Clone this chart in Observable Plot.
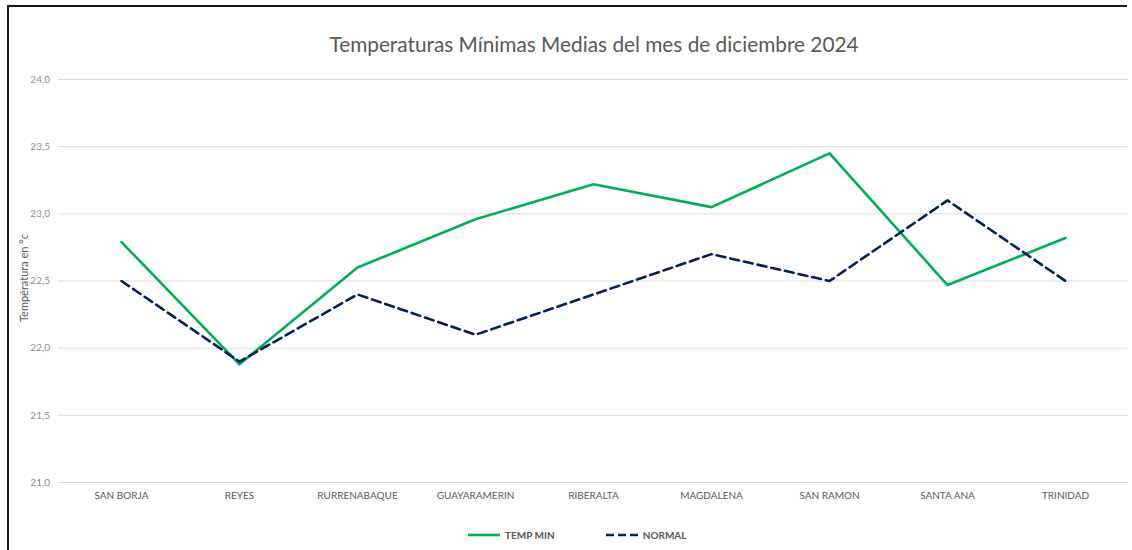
<!DOCTYPE html>
<html>
<head>
<meta charset="utf-8">
<script src="https://cdn.jsdelivr.net/npm/d3@7"></script>
<script src="https://cdn.jsdelivr.net/npm/@observablehq/plot@0.6"></script>
<style>
  html, body { margin: 0; padding: 0; background: #fff; overflow: hidden; }
  body { width: 1132px; height: 550px; position: relative; font-family: Lato, "Open Sans", sans-serif; }
  #frame { position: absolute; left: 7px; top: 5px; width: 1120px; height: 545px; border-left: 2px solid #1a1a1a; border-top: 2px solid #1a1a1a; box-sizing: border-box; }
  #title { position: absolute; left: 0; width: 1188px; top: 31px; text-align: center; font-size: 20.8px; color: #595959; }
  #chart { position: absolute; left: 0; top: 60px; }
  #ylabel { position: absolute; left: 23px; top: 278px; transform: translate(-50%, -50%) rotate(-90deg); white-space: nowrap; font-size: 11px; color: #595959; }
  #legend { position: absolute; top: 527px; left: 467px; display: flex; align-items: center; font-size: 10px; font-weight: bold; color: #595959; }
  #legend .item { display: flex; align-items: center; }
  #legend svg { margin-right: 4px; }
</style>
</head>
<body>
<div id="frame"></div>
<div id="title">Temperaturas Mínimas Medias del mes de diciembre 2024</div>
<div id="chart"></div>
<div id="ylabel">Températura en °c</div>
<div id="legend"></div>
<script>
const stations = ["SAN BORJA", "REYES", "RURRENABAQUE", "GUAYARAMERIN", "RIBERALTA", "MAGDALENA", "SAN RAMON", "SANTA ANA", "TRINIDAD"];
const tempMin = [22.79, 21.88, 22.6, 22.96, 23.22, 23.05, 23.45, 22.47, 22.82];
const normal = [22.5, 21.9, 22.4, 22.1, 22.4, 22.7, 22.5, 23.1, 22.5];
const yTicks = [21.0, 21.5, 22.0, 22.5, 23.0, 23.5, 24.0];
const seriesNames = ["TEMP MIN", "NORMAL"];
const seriesColors = ["#00B050", "#002060"];

const rowsMin = stations.map((s, i) => ({station: s, value: tempMin[i]}));
const rowsNormal = stations.map((s, i) => ({station: s, value: normal[i]}));
const fmt = d => d.toFixed(1).replace(".", ",");

const chart = Plot.plot({
  width: 1132,
  height: 460,
  marginTop: 19,
  marginBottom: 38,
  marginLeft: 57.5,
  marginRight: 4.5,
  style: {fontFamily: "Lato, 'Open Sans', sans-serif", fontSize: "10px", color: "#595959", background: "transparent"},
  x: {type: "point", domain: stations, padding: 0.5},
  y: {domain: [21, 24]},
  marks: [
    Plot.gridY(yTicks, {stroke: "#d9d9d9", strokeOpacity: 1, strokeWidth: 1}),
    Plot.axisY(yTicks, {tickSize: 0, tickPadding: 8, tickFormat: fmt, label: null, fill: "#8c8c8c"}),
    Plot.axisX({tickSize: 0, tickPadding: 9, label: null, fill: "#595959"}),
    Plot.line(rowsMin, {x: "station", y: "value", stroke: seriesColors[0], strokeWidth: 2.6}),
    Plot.line(rowsNormal, {x: "station", y: "value", stroke: seriesColors[1], strokeWidth: 2.6, strokeDasharray: "9,5"})
  ]
});
document.getElementById("chart").appendChild(chart);

const legend = document.getElementById("legend");
seriesNames.forEach((name, i) => {
  const item = document.createElement("div");
  item.className = "item";
  item.style.marginRight = i === 0 ? "50px" : "0";
  const dash = i === 1 ? ' stroke-dasharray="8,4"' : "";
  item.innerHTML = `<svg width="34" height="16"><line x1="1" x2="33" y1="8" y2="8" stroke="${seriesColors[i]}" stroke-width="2.6"${dash}/></svg><span>${name}</span>`;
  legend.appendChild(item);
});
</script>
</body>
</html>
